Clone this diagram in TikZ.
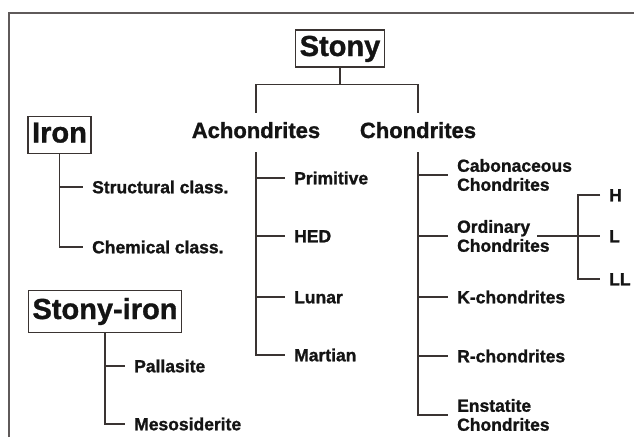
\documentclass[tikz,border=0pt]{standalone}
\usepackage{fontspec}
\setmainfont{Liberation Sans}[BoldFont={Liberation Sans Bold}, BoldFeatures={FakeBold=1.2}]
\usetikzlibrary{positioning}

\definecolor{linegray}{RGB}{58,52,50}
\definecolor{framegray}{RGB}{95,90,90}
\definecolor{inkblack}{RGB}{20,20,20}

\begin{document}
\begin{tikzpicture}[
    x=1pt, y=-1pt,
    every node/.style={text=inkblack},
    bigbox/.style={draw=linegray, line width=1.3pt, inner xsep=4pt, inner ysep=5pt,
                   text height=21pt, text depth=6pt, font=\bfseries\fontsize{29}{32}\selectfont},
    group/.style={anchor=base, inner xsep=0pt, inner ysep=9pt,
                  text height=16pt, text depth=5pt, font=\bfseries\fontsize{22}{25}\selectfont},
    leaf/.style={anchor=west, inner xsep=9pt, inner ysep=0pt,
                 text height=12.5pt, text depth=0pt, font=\bfseries\fontsize{17.5}{19}\selectfont},
    twoline/.style={leaf, align=left, text height=31.5pt, text depth=0pt},
    conn/.style={draw=linegray, line width=1.3pt}
    ]
    \fill[white] (0,0) rectangle (634,437);
    \useasboundingbox (0,0) rectangle (634,437);
    % Frame
    \draw[framegray, line width=1.6pt] (9,437) -- (9,13) -- (634,13);

    % Classes
    \node[bigbox] (stony) at (340,48.5) {Stony};
    \node[bigbox] (iron) at (59.5,135) {Iron};
    \node[bigbox, inner ysep=7.5pt] (stonyiron) at (105,311.5) {Stony-iron};
    \node[group] (achon) at (256,138) {Achondrites};
    \node[group] (chon) at (418,138) {Chondrites};

    % Iron groups
    \node[leaf] (struct) at (83,187) {Structural class.};
    \node[leaf] (chem) at (83,247) {Chemical class.};
    % Stony-iron groups
    \node[leaf] (pall) at (125,366) {Pallasite};
    \node[leaf] (meso) at (125,424) {Mesosiderite};
    % Achondrite groups
    \node[leaf] (prim) at (285,178) {Primitive};
    \node[leaf] (hed) at (285,236) {HED};
    \node[leaf] (lunar) at (285,297) {Lunar};
    \node[leaf] (mart) at (285,355) {Martian};
    % Chondrite groups
    \node[twoline] (cabo) at (448,175) {Cabonaceous\\Chondrites};
    \node[twoline] (ord) at (448,236) {Ordinary\\Chondrites};
    \node[leaf] (kch) at (448,297) {K-chondrites};
    \node[leaf] (rch) at (448,356) {R-chondrites};
    \node[twoline] (enst) at (448,415) {Enstatite\\Chondrites};
    % Ordinary chondrite groups
    \node[leaf] (H) at (600,195) {H};
    \node[leaf] (L) at (600,236) {L};
    \node[leaf] (LL) at (600,279) {LL};

    % Connectors
    \draw[conn] (stony.south) -- ++(0,17) coordinate (bar) -| (achon.north);
    \draw[conn] (bar) -| (chon.north);

    \draw[conn] (iron.south) |- (chem);
    \draw[conn] (iron.south |- struct) -- (struct);

    \draw[conn] (stonyiron.south) |- (meso);
    \draw[conn] (stonyiron.south |- pall) -- (pall);

    \draw[conn] (achon.south) |- (mart);
    \foreach \sub in {prim, hed, lunar}
        \draw[conn] (achon.south |- \sub) -- (\sub);

    \draw[conn] (chon.south) |- (enst);
    \foreach \sub in {cabo, ord, kch, rch}
        \draw[conn] (chon.south |- \sub) -- (\sub);

    \coordinate (ordend) at (537,236);
    \coordinate (fork) at (578,236);
    \draw[conn] (ordend) -- (L);
    \draw[conn] (H) -| (fork) |- (LL);
\end{tikzpicture}
\end{document}
